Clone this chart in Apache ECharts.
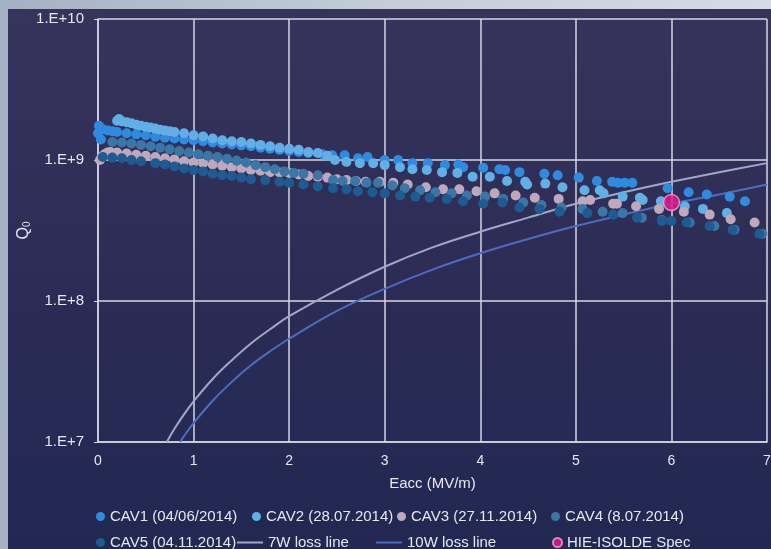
<!DOCTYPE html>
<html>
<head>
<meta charset="utf-8">
<script src="https://cdn.jsdelivr.net/npm/echarts@6/dist/echarts.min.js"></script>
<style>
  html, body { margin: 0; padding: 0; }
  body { width: 771px; height: 549px; overflow: hidden; position: relative;
         background: linear-gradient(to right, #a5b1c3, #c4cdd9 50%, #d4dbe4); }
  #chart { position: absolute; left: 8px; top: 9px; width: 763px; height: 540px; }
</style>
</head>
<body>
<div id="chart"></div>
<script>
// ---- data ----
const xTicks = [0, 1, 2, 3, 4, 5, 6, 7];
const yTickLabels = ['1.E+7', '1.E+8', '1.E+9', '1.E+10'];

const cav1E = [0.0, 0.01, 0.03, 0.05, 0.1, 0.15, 0.2, 0.3, 0.4, 0.5, 0.6, 0.7, 0.8, 0.9, 1.0, 1.1, 1.2, 1.3, 1.4, 1.5, 1.6, 1.7, 1.8, 1.9, 2.0, 2.1, 2.2, 2.35,
  2.45, 2.58, 2.72, 2.82, 3.0, 3.14, 3.29, 3.45, 3.63, 3.77, 3.82, 4.03, 4.2, 4.26, 4.41, 4.67, 4.81, 5.03, 5.22, 5.38, 5.44, 5.51, 5.59, 5.96, 6.18, 6.37, 6.61, 6.77];
const cav1Q = [1.55e9, 1.75e9, 1.4e9, 1.65e9, 1.62e9, 1.6e9, 1.58e9, 1.55e9, 1.52e9, 1.5e9, 1.46e9, 1.44e9, 1.42e9, 1.4e9, 1.38e9, 1.36e9, 1.33e9, 1.31e9, 1.29e9, 1.27e9, 1.25e9, 1.22e9, 1.2e9, 1.18e9, 1.16e9, 1.14e9, 1.12e9, 1.1e9,
  1.08e9, 1.08e9, 1.03e9, 1.05e9, 1.0e9, 1.0e9, 9.5e8, 9.5e8, 9.2e8, 9.3e8, 8.9e8, 8.8e8, 8.6e8, 8.5e8, 8.2e8, 8.0e8, 7.8e8, 7.5e8, 7.1e8, 7.0e8, 6.9e8, 6.9e8, 6.9e8, 6.3e8, 5.9e8, 5.7e8, 5.5e8, 5.1e8];

const cav2E = [0.2, 0.22, 0.25, 0.3, 0.35, 0.4, 0.45, 0.5, 0.55, 0.6, 0.65, 0.7, 0.75, 0.8, 0.9, 1.0, 1.1, 1.2, 1.3, 1.4, 1.5, 1.6, 1.7, 1.8, 1.9, 2.0, 2.1, 2.2, 2.3, 2.4,
  2.48, 2.6, 2.74, 2.88, 3.0, 3.16, 3.29, 3.44, 3.6, 3.76, 3.92, 4.1, 4.28, 4.47, 4.49, 4.68, 4.86, 5.09, 5.25, 5.29, 5.49, 5.67, 5.7, 5.89, 6.14, 6.33, 6.58];
const cav2Q = [1.9e9, 1.95e9, 1.88e9, 1.85e9, 1.82e9, 1.78e9, 1.75e9, 1.72e9, 1.7e9, 1.67e9, 1.64e9, 1.62e9, 1.6e9, 1.58e9, 1.55e9, 1.5e9, 1.47e9, 1.42e9, 1.38e9, 1.36e9, 1.34e9, 1.31e9, 1.28e9, 1.25e9, 1.22e9, 1.2e9, 1.18e9, 1.14e9, 1.12e9, 1.07e9,
  1.0e9, 9.7e8, 9.5e8, 9.5e8, 9.2e8, 8.9e8, 8.6e8, 8.5e8, 8.2e8, 8.1e8, 7.6e8, 7.6e8, 7.1e8, 7.0e8, 6.7e8, 6.8e8, 6.4e8, 6.1e8, 6.1e8, 5.8e8, 5.5e8, 5.4e8, 5.2e8, 5.1e8, 4.7e8, 4.5e8, 4.2e8];

const cav3E = [0.02, 0.04, 0.07, 0.1, 0.13, 0.2, 0.3, 0.4, 0.5, 0.6, 0.7, 0.8, 0.9, 1.0, 1.1, 1.2, 1.3, 1.4, 1.5, 1.6, 1.7, 1.8, 1.9, 2.0, 2.1, 2.2, 2.3, 2.4, 2.5, 2.6, 2.7, 2.8, 2.95,
  3.09, 3.24, 3.43, 3.61, 3.78, 3.96, 4.15, 4.37, 4.57, 4.82, 5.07, 5.15, 5.39, 5.43, 5.63, 5.87, 6.13, 6.4, 6.62, 6.87];
const cav3Q = [1.0e9, 1.06e9, 1.1e9, 1.13e9, 1.14e9, 1.13e9, 1.11e9, 1.09e9, 1.07e9, 1.05e9, 1.03e9, 1.01e9, 9.8e8, 9.6e8, 9.5e8, 9.3e8, 9.1e8, 8.9e8, 8.7e8, 8.5e8, 8.4e8, 8.2e8, 8.15e8, 8.1e8, 7.9e8, 7.7e8, 7.6e8, 7.5e8, 7.3e8, 7.2e8, 7.1e8, 7.0e8, 7.0e8,
  6.9e8, 6.7e8, 6.4e8, 6.2e8, 6.2e8, 6.0e8, 5.8e8, 5.6e8, 5.4e8, 5.3e8, 5.1e8, 5.2e8, 4.9e8, 4.9e8, 4.7e8, 4.5e8, 4.3e8, 4.1e8, 3.8e8, 3.6e8];

const cav4E = [0.15, 0.25, 0.35, 0.45, 0.55, 0.65, 0.75, 0.85, 0.95, 1.05, 1.15, 1.25, 1.35, 1.45, 1.55, 1.65, 1.75, 1.85, 1.95, 2.05, 2.15, 2.3,
  2.46, 2.56, 2.69, 2.81, 2.93, 3.08, 3.21, 3.37, 3.53, 3.7, 3.86, 4.05, 4.24, 4.45, 4.64, 4.85, 5.07, 5.28, 5.49, 5.69, 5.9, 6.19, 6.45, 6.66, 6.95];
const cav4Q = [1.34e9, 1.33e9, 1.31e9, 1.28e9, 1.25e9, 1.22e9, 1.19e9, 1.16e9, 1.13e9, 1.1e9, 1.07e9, 1.05e9, 1.02e9, 9.9e8, 9.6e8, 9.2e8, 8.9e8, 8.6e8, 8.3e8, 8.1e8, 8.0e8, 7.8e8,
  7.2e8, 7.1e8, 7.1e8, 6.9e8, 6.9e8, 6.6e8, 6.3e8, 6.1e8, 5.9e8, 5.8e8, 5.6e8, 5.5e8, 5.3e8, 5.0e8, 4.8e8, 4.6e8, 4.5e8, 4.3e8, 4.2e8, 3.9e8, 3.75e8, 3.6e8, 3.4e8, 3.2e8, 3.0e8];

const cav5E = [0.05, 0.15, 0.25, 0.35, 0.45, 0.6, 0.7, 0.8, 0.9, 1.0, 1.1, 1.2, 1.3, 1.4, 1.5, 1.6, 1.75, 1.9, 2.0, 2.15, 2.3,
  2.46, 2.6, 2.72, 2.87, 3.0, 3.16, 3.32, 3.47, 3.65, 3.82, 4.03, 4.23, 4.41, 4.62, 4.83, 5.12, 5.39, 5.64, 5.9, 6.0, 6.16, 6.4, 6.64, 6.92];
const cav5Q = [1.05e9, 1.04e9, 1.03e9, 1.0e9, 9.8e8, 9.5e8, 9.3e8, 9.0e8, 8.7e8, 8.5e8, 8.3e8, 8.0e8, 7.8e8, 7.7e8, 7.5e8, 7.3e8, 7.2e8, 7.0e8, 6.9e8, 6.7e8, 6.5e8,
  6.3e8, 6.2e8, 6.0e8, 5.9e8, 5.8e8, 5.6e8, 5.5e8, 5.4e8, 5.3e8, 5.1e8, 4.9e8, 5.0e8, 4.6e8, 4.5e8, 4.3e8, 4.2e8, 4.1e8, 3.9e8, 3.7e8, 3.7e8, 3.6e8, 3.4e8, 3.2e8, 3.0e8];

const loss7E = [0.72, 0.8, 0.9, 1.0, 1.2, 1.4, 1.6, 1.8, 2.0, 2.5, 3.0, 3.5, 4.0, 4.5, 5.0, 5.5, 6.0, 6.5, 7.0];
const loss7Q = [1.0e7, 1.24e7, 1.57e7, 1.94e7, 2.8e7, 3.8e7, 5.0e7, 6.3e7, 7.8e7, 1.2e8, 1.75e8, 2.4e8, 3.1e8, 3.9e8, 4.9e8, 5.9e8, 7.0e8, 8.2e8, 9.5e8];
const loss10E = [0.86, 0.9, 1.0, 1.2, 1.4, 1.6, 1.8, 2.0, 2.5, 3.0, 3.5, 4.0, 4.5, 5.0, 5.5, 6.0, 6.5, 7.0];
const loss10Q = [1.0e7, 1.1e7, 1.36e7, 1.96e7, 2.67e7, 3.5e7, 4.4e7, 5.4e7, 8.5e7, 1.22e8, 1.67e8, 2.18e8, 2.75e8, 3.4e8, 4.1e8, 4.9e8, 5.7e8, 6.7e8];

const specE = [6.0];
const specQ = [5.0e8];

const names = ['CAV1 (04/06/2014)', 'CAV2 (28.07.2014)', 'CAV3 (27.11.2014)', 'CAV4 (8.07.2014)',
               'CAV5 (04.11.2014)', '7W loss line', '10W loss line', 'HIE-ISOLDE Spec'];

// ---- build ----
const pairs = (xs, ys) => xs.map((x, i) => [x, ys[i]]);
const txt = '#e6e7f0';
const font = '"Liberation Sans", Arial, sans-serif';

function scatter(name, xs, ys, color) {
  return { name, type: 'scatter', data: pairs(xs, ys), symbolSize: 10,
           itemStyle: { color, opacity: 1 }, z: 3 };
}
function lossLine(name, xs, ys, color) {
  return { name, type: 'line', data: pairs(xs, ys), smooth: 0.4, symbol: 'none', showSymbol: false,
           lineStyle: { color, width: 2 }, itemStyle: { color }, z: 2 };
}

// [left, top, itemWidth, itemHeight, icon]
const legendPos = [
  [88, 500, 9, 9, 'circle'], [244, 500, 9, 9, 'circle'], [389, 500, 9, 9, 'circle'], [543, 500, 9, 9, 'circle'],
  [88, 526, 9, 9, 'circle'], [229, 526, 26, 2, 'rect'], [368, 526, 26, 2, 'rect'], [544, 526, 9, 9, 'circle']
];
const legends = names.map((n, i) => ({
  data: [{ name: n, icon: legendPos[i][4] }], left: legendPos[i][0], top: legendPos[i][1],
  itemWidth: legendPos[i][2], itemHeight: legendPos[i][3], itemGap: 0,
  selectedMode: false, padding: 0,
  textStyle: { color: txt, fontSize: 15, fontFamily: font }
}));

const chart = echarts.init(document.getElementById('chart'));
chart.setOption({
  animation: false,
  backgroundColor: {
    type: 'linear', x: 0, y: 0, x2: 0, y2: 1,
    colorStops: [{ offset: 0, color: '#37345c' }, { offset: 0.5, color: '#2c2c56' }, { offset: 1, color: '#212852' }]
  },
  textStyle: { fontFamily: font },
  grid: { left: 90, right: 4, top: 10, bottom: 107, containLabel: false, outerBoundsMode: 'none' },
  legend: legends,
  xAxis: {
    type: 'value', min: xTicks[0], max: xTicks[xTicks.length - 1], interval: 1,
    name: 'Eacc (MV/m)', nameLocation: 'middle', nameGap: 34, nameMoveOverlap: false,
    nameTextStyle: { color: txt, fontSize: 15, fontFamily: font },
    axisLine: { show: true, lineStyle: { color: '#d6d6e0', width: 1.5 } },
    axisTick: { show: false },
    axisLabel: { color: txt, fontSize: 14, margin: 12, fontFamily: font },
    splitLine: { show: true, lineStyle: { color: '#d6d6e0', width: 1.5 } }
  },
  yAxis: {
    type: 'log', logBase: 10, min: 1e7, max: 1e10,
    name: '{q|Q}{s|0}', nameLocation: 'middle', nameGap: 66, nameMoveOverlap: false,
    nameTextStyle: { color: txt, fontFamily: font,
      rich: { q: { fontSize: 16, color: txt, fontFamily: font }, s: { fontSize: 10, color: txt, fontFamily: font, padding: [6, 0, 0, 0] } } },
    axisLine: { show: true, lineStyle: { color: '#d6d6e0', width: 1.5 } },
    axisTick: { show: true, length: 4, lineStyle: { color: '#d6d6e0' } },
    axisLabel: { color: txt, fontSize: 15, margin: 14, fontFamily: font,
      formatter: v => yTickLabels[Math.round(Math.log10(v)) - 7] },
    splitLine: { show: true, lineStyle: { color: '#d6d6e0', width: 1.5 } },
    minorTick: { show: false }
  },
  series: [
    lossLine(names[5], loss7E, loss7Q, '#a3a6c6'),
    lossLine(names[6], loss10E, loss10Q, '#4d6cc0'),
    scatter(names[0], cav1E, cav1Q, '#2f8be0'),
    scatter(names[1], cav2E, cav2Q, '#62aee6'),
    scatter(names[2], cav3E, cav3Q, '#bfa8bb'),
    scatter(names[3], cav4E, cav4Q, '#3a77a6'),
    scatter(names[4], cav5E, cav5Q, '#1d5b92'),
    { name: names[7], type: 'scatter', data: pairs(specE, specQ), symbolSize: 16, z: 5,
      itemStyle: { color: '#e8178c', borderColor: '#f4a2cf', borderWidth: 1.5 } }
  ]
});
</script>
</body>
</html>
